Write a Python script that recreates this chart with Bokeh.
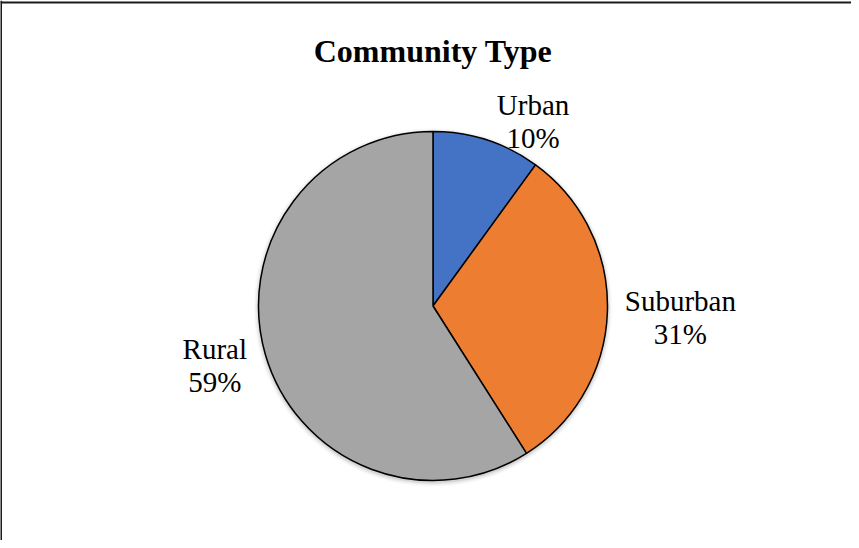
import math
from bokeh.plotting import figure
from bokeh.models import Range1d, ColumnDataSource
from bokeh.core.properties import value
from bokeh.embed import file_html
from bokeh.resources import INLINE

# ---- data ----
categories = ["Urban", "Suburban", "Rural"]
values = [10, 31, 59]
colors = ["#4472C4", "#ED7D31", "#A5A5A5"]
title_text = "Community Type"

# ---- layout (pixel-based data space) ----
W, H = 851, 540
cx, cy, r = 432.5, 234.5, 174.5
label_gap = 10
# offset from the mid-angle anchor to the label block centre (px)
label_offsets = [(43, 9), (63, -6), (-41, -8)]
line_sep = 33
FONT = "Liberation Serif"

p = figure(width=W, height=H, output_backend="svg", toolbar_location=None,
           x_range=Range1d(0, W), y_range=Range1d(0, H), min_border=0,
           background_fill_color="white", border_fill_color="white")
p.axis.visible = False
p.grid.visible = False
p.outline_line_color = None

# chart frame (left and top edges visible)
p.segment(x0=[0.5, 0], y0=[0, 538], x1=[0.5, W], y1=[H, 538],
          line_color="#1a1a1a", line_width=2)

# soft shadow
for i, a in enumerate([0.05, 0.045, 0.035, 0.025, 0.015]):
    p.circle(x=[cx], y=[cy - 1.5], radius=r + 1 + i, fill_color="black",
             fill_alpha=a, line_color=None)

total = sum(values)
starts, ends, mids = [], [], []
acc = 0.0
for v in values:
    a0 = math.pi / 2 - 2 * math.pi * acc / total
    acc += v
    a1 = math.pi / 2 - 2 * math.pi * acc / total
    starts.append(a0)
    ends.append(a1)
    mids.append((a0 + a1) / 2)

src = ColumnDataSource(dict(start=starts, end=ends, color=colors, cat=categories))
p.wedge(x=cx, y=cy, radius=r, start_angle="start", end_angle="end",
        direction="clock", fill_color="color", line_color="black",
        line_width=1.5, source=src)

# labels
lx, ly1, ly2, names, pcts = [], [], [], [], []
for cat, v, m, (dx, dy) in zip(categories, values, mids, label_offsets):
    ax = cx + (r + label_gap) * math.cos(m)
    ay = cy + (r + label_gap) * math.sin(m)
    bx, by = ax + dx, ay + dy
    lx.append(bx)
    ly1.append(by + line_sep / 2)
    ly2.append(by - line_sep / 2)
    names.append(cat)
    pcts.append(f"{round(100 * v / total)}%")

p.text(x=lx, y=ly1, text=names, text_font=value(FONT), text_font_size="29px",
       text_align="center", text_baseline="middle", text_color="black")
p.text(x=lx, y=ly2, text=pcts, text_font=value(FONT), text_font_size="29px",
       text_align="center", text_baseline="middle", text_color="black")

# title
p.text(x=[cx], y=[490], text=[title_text], text_font=value(FONT),
       text_font_size="32px", text_font_style="bold", text_align="center",
       text_baseline="alphabetic", text_color="black")

open("out.html", "w").write(file_html(p, INLINE))
